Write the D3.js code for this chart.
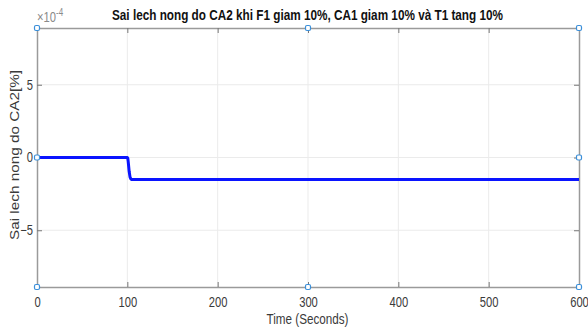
<!DOCTYPE html>
<html>
<head>
<meta charset="utf-8">
<script src="https://cdn.jsdelivr.net/npm/d3@7"></script>
<style>
  body { margin: 0; background: #fff; }
  text { font-family: "Liberation Sans", Arial, sans-serif; }
</style>
</head>
<body>
<div id="graph-container"></div>
<script>
// Series (values in units of 1e-4 %)
const timeData = [0, 50, 100, 100.5, 101, 102, 103, 104, 105, 200, 300, 400, 500, 600];
const errorData = [0, 0, 0, -0.05, -0.3, -0.95, -1.35, -1.48, -1.52, -1.52, -1.52, -1.52, -1.52, -1.52];

const xTicks = [0, 100, 200, 300, 400, 500, 600];
const yTicks = [-5, 0, 5];
const yLimits = [-8.9, 8.9];
const xLimits = [0, 600];

const width = 588;
const height = 331;
const margin = { left: 37, right: 9, top: 28, bottom: 44 };

const svg = d3.select('#graph-container')
  .append('svg')
  .attr('width', width)
  .attr('height', height);

const xscale = d3.scaleLinear()
  .domain(xLimits)
  .range([margin.left, width - margin.right]);

const yscale = d3.scaleLinear()
  .domain(yLimits)
  .range([height - margin.bottom, margin.top]);

const AXIS_COLOR = '#9a9a9a';
const TEXT_COLOR = '#3a3a3a';
const GRID_COLOR = '#ebebeb';
const SQUEEZE = 'scale(0.8, 1)'; // the reference text is horizontally narrow

// Grid lines
svg.append('g')
  .selectAll('line')
  .data(xTicks.slice(1, -1))
  .enter()
  .append('line')
  .attr('x1', (d) => xscale(d))
  .attr('x2', (d) => xscale(d))
  .attr('y1', yscale(yLimits[0]))
  .attr('y2', yscale(yLimits[1]))
  .attr('stroke', GRID_COLOR);

svg.append('g')
  .selectAll('line')
  .data(yTicks)
  .enter()
  .append('line')
  .attr('x1', xscale(xLimits[0]))
  .attr('x2', xscale(xLimits[1]))
  .attr('y1', (d) => yscale(d))
  .attr('y2', (d) => yscale(d))
  .attr('stroke', GRID_COLOR);

// Axes (ticks point inward, box style)
const xAxis = d3.axisBottom(xscale).tickValues(xTicks).tickSizeInner(-5).tickSizeOuter(0).tickPadding(10);
const gx = svg.append('g')
  .attr('transform', `translate(0, ${yscale(yLimits[0])})`)
  .call(xAxis);

const gxTop = svg.append('g')
  .attr('transform', `translate(0, ${yscale(yLimits[1])})`)
  .call(d3.axisTop(xscale).tickValues(xTicks).tickSizeInner(-5).tickSizeOuter(0).tickFormat(''));

const yAxis = d3.axisLeft(yscale).tickValues(yTicks).tickSizeInner(-5).tickSizeOuter(0).tickPadding(5);
const gy = svg.append('g')
  .attr('transform', `translate(${xscale(xLimits[0])}, 0)`)
  .call(yAxis);

const gyRight = svg.append('g')
  .attr('transform', `translate(${xscale(xLimits[1])}, 0)`)
  .call(d3.axisRight(yscale).tickValues(yTicks).tickSizeInner(-5).tickSizeOuter(0).tickFormat(''));

[gx, gxTop, gy, gyRight].forEach((g) => {
  g.select('.domain').attr('stroke', AXIS_COLOR).attr('stroke-width', 1.5);
  g.selectAll('.tick line').attr('stroke', '#777');
  g.selectAll('.tick text')
    .attr('fill', TEXT_COLOR)
    .attr('transform', SQUEEZE)
    .style('font-size', '14px');
});

// Exponent label
const expLabel = svg.append('text')
  .attr('transform', `translate(${xscale(0)}, 22) ${SQUEEZE}`)
  .attr('fill', '#8a8a8a')
  .style('font-size', '14px');
expLabel.append('tspan').text('\u00d710');
expLabel.append('tspan').attr('dy', -6).style('font-size', '10px').text('-4');

// Data line
const line = d3.line()
  .x((d, i) => xscale(timeData[i]))
  .y((d) => yscale(d));

svg.append('path')
  .datum(errorData)
  .attr('d', line)
  .attr('fill', 'none')
  .attr('stroke', '#0a14ff')
  .attr('stroke-width', 3)
  .attr('stroke-linejoin', 'round');

// Selection handles on the axes box
const handles = [
  [0, yLimits[1]], [300, yLimits[1]], [600, yLimits[1]],
  [0, 0], [600, 0],
  [0, yLimits[0]], [300, yLimits[0]], [600, yLimits[0]],
];
svg.append('g')
  .selectAll('rect')
  .data(handles)
  .enter()
  .append('rect')
  .attr('x', (d) => xscale(d[0]) - 2.5)
  .attr('y', (d) => yscale(d[1]) - 2.5)
  .attr('width', 5)
  .attr('height', 5)
  .attr('rx', 1.5)
  .attr('fill', '#fff')
  .attr('stroke', '#3b8fd9')
  .attr('stroke-width', 1.2);

// Title and axis labels
svg.append('text')
  .attr('x', 307.5)
  .attr('y', 20)
  .attr('text-anchor', 'middle')
  .attr('fill', '#111')
  .style('font-size', '14px')
  .style('font-weight', 'bold')
  .attr('textLength', 391)
  .attr('lengthAdjust', 'spacingAndGlyphs')
  .text('Sai lech nong do CA2 khi F1 giam 10%, CA1 giam 10% và T1 tang 10%');

svg.append('text')
  .attr('x', 307.5)
  .attr('y', 324)
  .attr('text-anchor', 'middle')
  .attr('fill', TEXT_COLOR)
  .style('font-size', '14px')
  .attr('textLength', 82)
  .attr('lengthAdjust', 'spacingAndGlyphs')
  .text('Time (Seconds)');

svg.append('text')
  .attr('transform', `translate(19, 155) rotate(-90)`)
  .attr('text-anchor', 'middle')
  .attr('fill', TEXT_COLOR)
  .style('font-size', '13px')
  .attr('textLength', 170)
  .attr('lengthAdjust', 'spacingAndGlyphs')
  .text('Sai lech nong do CA2[%]');
</script>
</body>
</html>
